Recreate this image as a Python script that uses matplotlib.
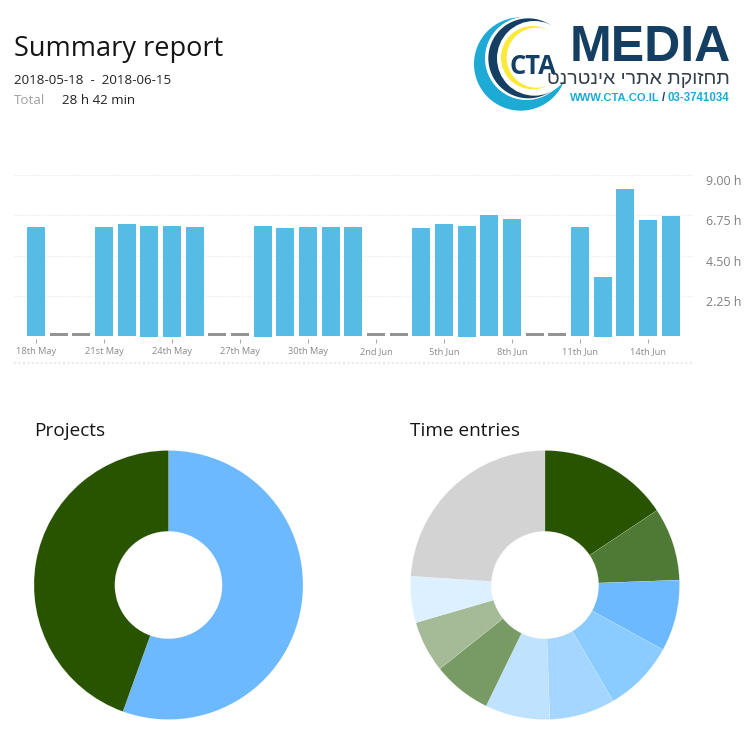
import matplotlib
matplotlib.use("Agg")
import matplotlib.pyplot as plt
from matplotlib.patches import Circle
import numpy as np

W, H = 753, 731
plt.rcParams['font.family'] = ['Open Sans', 'DejaVu Sans']

# ---- data ----
day_labels = ["18th May", "21st May", "24th May", "27th May", "30th May",
              "2nd Jun", "5th Jun", "8th Jun", "11th Jun", "14th Jun"]
hours = [6.09, 0, 0, 6.09, 6.26, 6.15, 6.15, 6.09, 0, 0, 6.15, 6.04, 6.09, 6.09, 6.09,
         0, 0, 6.04, 6.26, 6.15, 6.76, 6.54, 0, 0, 6.09, 3.30, 8.22, 6.48, 6.71]
overhang_days = [5, 6, 10, 19, 25]
y_ticks = [2.25, 4.50, 6.75, 9.00]
y_labels = ["2.25 h", "4.50 h", "6.75 h", "9.00 h"]

project_shares = [55.5, 44.5]
project_colors = ['#6cb9ff', '#285400']
entry_shares = [15.64, 8.78, 8.56, 8.56, 7.89, 7.78, 7.08, 6.19, 5.58, 23.94]
entry_colors = ['#285400', '#4f7a35', '#6cb9ff', '#8accff', '#a5d6ff',
                '#bfe2ff', '#789b66', '#a5bb98', '#dcf0ff', '#d3d3d3']


def axes_px(x0, y0, x1, y1, **kw):
    return fig.add_axes([x0 / W, 1 - y1 / H, (x1 - x0) / W, (y1 - y0) / H], **kw)


def text_px(x, y, s, **kw):
    kw.setdefault('va', 'baseline')
    return fig.text(x / W, 1 - y / H, s, **kw)


fig = plt.figure(figsize=(W / 100, H / 100), dpi=100, facecolor='white')

# ---- header ----
text_px(14, 56, "Summary report", fontsize=19.5, color='#151515')
text_px(14, 84.3, "2018-05-18  -  2018-06-15", fontsize=9.6, color='#222222')
text_px(14, 104.3, "Total", fontsize=9.6, color='#a0a0a0')
text_px(62, 104.3, "28 h 42 min", fontsize=9.6, color='#222222')

# ---- bar chart ----
px_per_h = 161 / 9
stub_h = 3 / px_per_h
over_h = 1 / px_per_h
ax = axes_px(14, 175, 693, 363)
days = np.arange(len(hours))
vals = np.array(hours)
heights = np.where(vals == 0, stub_h, vals)
bottoms = np.zeros(len(hours))
bottoms[overhang_days] = -over_h
heights = heights + np.where(bottoms < 0, over_h, 0)
colors = ['#939393' if v == 0 else '#56bce6' for v in hours]
ax.bar(days, heights, bottom=bottoms, width=18 / 22.67, color=colors, linewidth=0, zorder=3)
ax.set_xlim((14 - 36) / 22.67, (693 - 36) / 22.67)
ax.set_ylim(-27 / px_per_h, 9)
for s in ['top', 'left', 'right']:
    ax.spines[s].set_visible(False)
ax.spines['bottom'].set_position(('data', -3 / px_per_h))
ax.spines['bottom'].set_visible(False)
ax.set_xticks(days[::3])
ax.set_xticklabels(day_labels)
ax.tick_params(axis='x', length=2.8, width=0.8, color='#aaaaaa', pad=3.2,
               labelsize=6.7, labelcolor='#8a8a8a', direction='out')
ax.set_yticks(y_ticks)
ax.set_yticklabels(y_labels)
ax.yaxis.tick_right()
ax.tick_params(axis='y', length=0, pad=9.5, labelsize=8.9, labelcolor='#808080')
for lab in ax.get_yticklabels():
    lab.set_verticalalignment('top')
ax.grid(axis='y', color='#ececec', linewidth=0.8, linestyle=(0, (1, 1)), zorder=0)
ax.axhline(-27 / px_per_h, color='#ececec', linewidth=1.6, linestyle=(0, (1, 1)), clip_on=False, zorder=0)

# ---- donuts ----
R = 134.5
hole = 53.7
for cx, shares, cols, title, tx in [
    (168.5, project_shares, project_colors, "Projects", 34),
    (545, entry_shares, entry_colors, "Time entries", 410),
]:
    pa = axes_px(cx - R, 585 - R, cx + R, 585 + R)
    pa.pie(shares, colors=cols, startangle=90, counterclock=False, radius=1,
           wedgeprops=dict(width=1 - hole / R, linewidth=0.08, edgecolor='white'))
    pa.set_xlim(-1, 1)
    pa.set_ylim(-1, 1)
    text_px(tx, 436, title, fontsize=13.7, color='#151515')

# ---- logo ----
la = axes_px(465, 10, 575, 120)
la.set_xlim(0, 330)
la.set_ylim(330, 0)
la.axis('off')
LB, NV, YL = '#1dabd6', '#153e63', '#fde93a'
for (c, r, col) in [((167, 162), 140, LB), ((185, 145), 125, 'white'),
                    ((190, 145), 120, NV), ((208, 145), 112, 'white'),
                    ((203, 143), 95, YL), ((215, 143), 90, 'white')]:
    la.add_patch(Circle(c, r, facecolor=col, edgecolor='none'))
text_px(510, 73.5, "CTA", fontsize=18.4, fontweight='bold', color=NV, family=['Open Sans'])
text_px(570, 61, "MEDIA", fontsize=36, fontweight='bold', color=NV, family=['Liberation Sans'])
hebrew = "תחזוקת אתרי אינטרנט"
text_px(730, 84, hebrew[::-1], fontsize=14, color='#333f48', ha='right', family=['Liberation Sans'])
text_px(570, 100.7, "WWW.CTA.CO.IL", fontsize=8.1, fontweight='bold', color=LB, family=['Liberation Sans'])
text_px(664, 100.7, "/", fontsize=8.3, fontweight='bold', color=NV, ha='center', family=['Liberation Sans'])
text_px(729, 100.7, "03-3741034", fontsize=8.3, fontweight='bold', color=LB, ha='right', family=['Liberation Sans'])

fig.savefig('out.png', dpi=100, facecolor='white')
